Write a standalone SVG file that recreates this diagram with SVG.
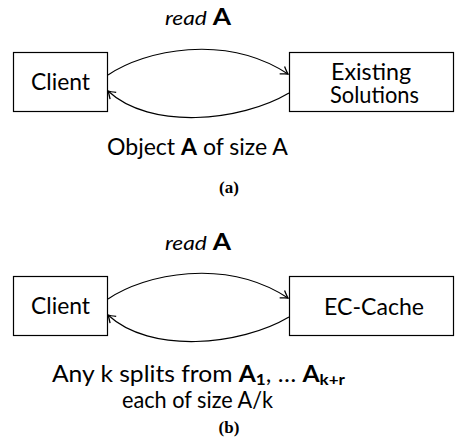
<svg xmlns="http://www.w3.org/2000/svg" width="455" height="445" viewBox="0 0 455 445">
<style>
.box{fill:#fff;stroke:#000;stroke-width:1.2}
.t{font-family:Lato,"Liberation Sans",sans-serif;font-size:23px;fill:#000}
.s{font-family:Lato,"Liberation Sans",sans-serif;font-size:19px;fill:#000}
.b{font-weight:bold}
.cap{font-family:"Liberation Serif",serif;font-weight:bold;font-size:17px;fill:#000}
.e{fill:none;stroke:#000;stroke-width:1.2;marker-end:url(#ah)}
</style>
<defs>
<marker id="ah" markerWidth="14" markerHeight="14" refX="0" refY="0" viewBox="-10 -7 14 14" orient="auto" markerUnits="userSpaceOnUse">
<path d="M-7,-4.5 Q-2,-1 0,0 Q-2,1 -7,4.5" fill="none" stroke="#000" stroke-width="1.3"/>
</marker>
</defs>
<g id="client-a"><rect class="box" x="13.5" y="52.5" width="94" height="59"/><text class="t" x="31" y="90" textLength="59" lengthAdjust="spacingAndGlyphs">Client</text></g>
<g id="existing"><rect class="box" x="289.5" y="52.5" width="164" height="59"/><text class="t" x="331" y="80" textLength="80" lengthAdjust="spacingAndGlyphs">Existing</text><text class="t" x="330" y="103" textLength="89" lengthAdjust="spacingAndGlyphs">Solutions</text></g>
<g id="client-b"><rect class="box" x="13.5" y="276.5" width="94" height="59"/><text class="t" x="31" y="314" textLength="59" lengthAdjust="spacingAndGlyphs">Client</text></g>
<g id="eccache"><rect class="box" x="289.5" y="276.5" width="164" height="59"/><text class="t" x="324" y="315" textLength="100" lengthAdjust="spacingAndGlyphs">EC-Cache</text></g>
<g id="connectors">
<path class="e" d="M108,75 C145,50 225,33 288,74"/>
<path class="e" d="M289,93 C240,122 150,130 108,91"/>
<path class="e" d="M108,299 C145,274 225,257 288,298"/>
<path class="e" d="M289,317 C240,346 150,354 108,315"/>
</g>
<text class="s" x="165" y="25" textLength="66" lengthAdjust="spacingAndGlyphs"><tspan font-style="italic">read</tspan> <tspan class="b" font-size="22">A</tspan></text>
<text class="t" x="107" y="155" textLength="181" lengthAdjust="spacingAndGlyphs">Object <tspan class="b">A</tspan> of size A</text>
<text class="cap" x="229" y="193" text-anchor="middle">(a)</text>
<text class="s" x="165" y="250" textLength="66" lengthAdjust="spacingAndGlyphs"><tspan font-style="italic">read</tspan> <tspan class="b" font-size="22">A</tspan></text>
<text class="t" x="52" y="382" textLength="293" lengthAdjust="spacingAndGlyphs">Any k splits from <tspan class="b">A</tspan><tspan class="b" font-size="16" baseline-shift="-3">1</tspan>, … <tspan class="b">A</tspan><tspan class="b" font-size="16" baseline-shift="-3">k+r</tspan></text>
<text class="t" x="122" y="408" textLength="151" lengthAdjust="spacingAndGlyphs">each of size A/k</text>
<text class="cap" x="229" y="433" text-anchor="middle">(b)</text>
</svg>
